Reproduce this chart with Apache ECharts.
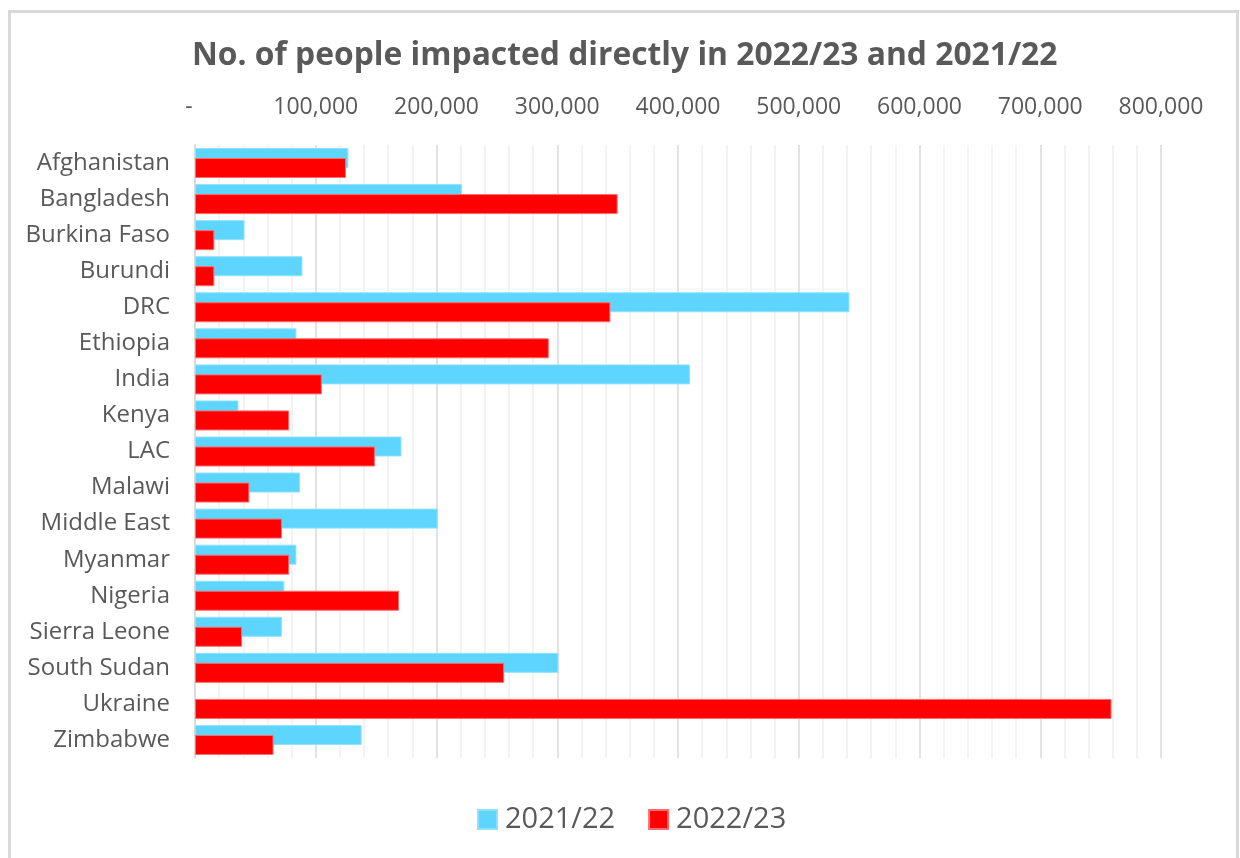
<!DOCTYPE html>
<html>
<head>
<meta charset="utf-8">
<script src="https://cdn.jsdelivr.net/npm/echarts@6/dist/echarts.min.js"></script>
<style>
  html, body { margin: 0; padding: 0; background: #fff; }
  #main { width: 1240px; height: 858px; }
</style>
</head>
<body>
<div id="main"></div>
<script>
var categories = ['Afghanistan', 'Bangladesh', 'Burkina Faso', 'Burundi', 'DRC', 'Ethiopia', 'India',
  'Kenya', 'LAC', 'Malawi', 'Middle East', 'Myanmar', 'Nigeria', 'Sierra Leone', 'South Sudan',
  'Ukraine', 'Zimbabwe'];
// Ukraine has no 2021/22 bar
var people2122 = [127000, 221000, 41000, 89000, 542000, 84000, 410000, 36000, 171000, 87000,
  201000, 84000, 74000, 72000, 301000, null, 138000];
var people2223 = [125000, 350000, 16000, 16000, 344000, 293000, 105000, 78000, 149000, 45000,
  72000, 78000, 169000, 39000, 256000, 759000, 65000];

var chart = echarts.init(document.getElementById('main'));
var textColor = '#595959';
var font = '"Open Sans", "Noto Sans", sans-serif';

var option = {
  backgroundColor: '#fff',
  textStyle: { fontFamily: font },
  graphic: [{
    type: 'rect',
    shape: { x: 9.5, y: 11.5, width: 1228, height: 900 },
    style: { fill: 'none', stroke: '#d9d9d9', lineWidth: 3 },
    silent: true
  }],
  title: {
    text: 'No. of people impacted directly in 2022/23 and 2021/22',
    left: 187,
    top: 35,
    textStyle: { fontFamily: font, fontSize: 31.8, fontWeight: 'bold', color: textColor }
  },
  legend: {
    top: 800,
    left: 472,
    itemWidth: 19,
    itemHeight: 19,
    itemGap: 33,
    icon: 'rect',
    textStyle: { fontFamily: font, fontSize: 29, color: textColor, padding: [0, 0, 0, 3] },
    data: ['2021/22', '2022/23']
  },
  grid: { left: 195, right: 79, top: 145, bottom: 100, containLabel: false },
  xAxis: {
    type: 'value',
    position: 'top',
    min: 0,
    max: 800000,
    interval: 100000,
    axisLine: { show: false },
    axisTick: { show: false },
    axisLabel: {
      margin: 26,
      fontFamily: font,
      fontSize: 23,
      color: textColor,
      formatter: function (v) {
        return v === 0 ? '-  ' : v.toLocaleString('en-US');
      }
    },
    splitLine: { show: true, lineStyle: { color: '#d9d9d9', width: 1.5 } },
    minorTick: { show: false, splitNumber: 5 },
    minorSplitLine: { show: true, lineStyle: { color: '#f0f0f0', width: 1.5 } }
  },
  yAxis: {
    type: 'category',
    inverse: true,
    data: categories,
    axisLine: { show: true, lineStyle: { color: '#d9d9d9', width: 1.5 } },
    axisTick: { show: false },
    axisLabel: { margin: 25, fontFamily: font, fontSize: 24, color: textColor }
  },
  series: [
    {
      name: '2021/22',
      type: 'bar',
      data: people2122,
      barWidth: 20,
      barGap: '-50%',
      itemStyle: { color: '#5dd5ff', borderColor: '#8fe2ff', borderWidth: 1 }
    },
    {
      name: '2022/23',
      type: 'bar',
      data: people2223,
      barWidth: 20,
      itemStyle: { color: '#ff0000', borderColor: '#ff6a6a', borderWidth: 1 }
    }
  ]
};

chart.setOption(option);
window.onresize = chart.resize;
</script>
</body>
</html>
